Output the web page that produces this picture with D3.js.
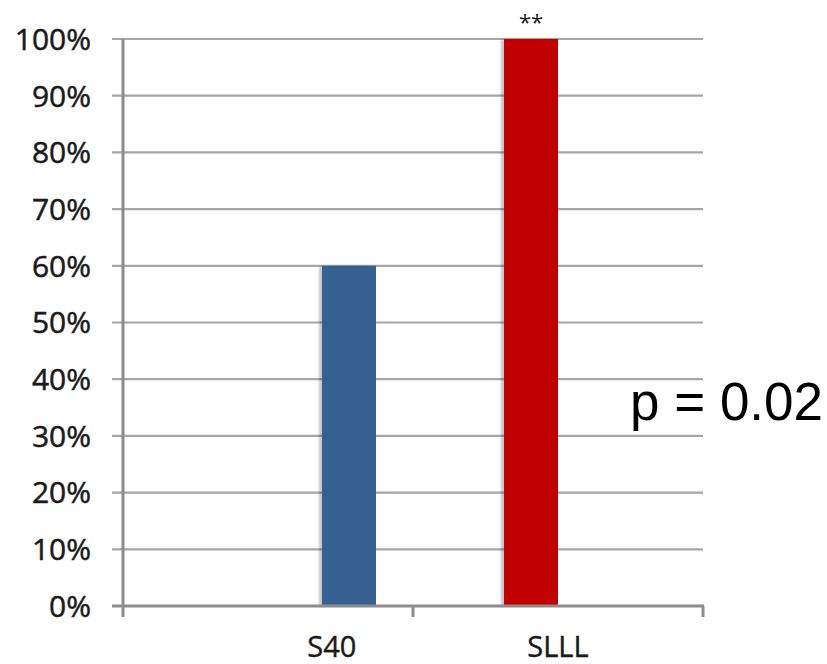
<!DOCTYPE html>
<html><head><meta charset="utf-8">
<script src="https://cdn.jsdelivr.net/npm/d3@7"></script>
<style>body{margin:0;background:#fff}svg{display:block}</style>
</head><body>
<script>
const categories = ["S40", "SLLL"];
const values = [60, 100];
const barSlot = [3, 1];            // sub-slot within category (of 4)
const barColors = ["#376092", "#C00000"];
const labelShift = [0.22, 0];       // label offset, fraction of band
const yTicks = [0,10,20,30,40,50,60,70,80,90,100];
const annotation = "**";
const pText = "p = 0.02";

const W = 827, H = 664;
const svg = d3.select("body").append("svg").attr("width", W).attr("height", H);

const x = d3.scaleBand().domain(categories).range([123, 703]).paddingInner(0).paddingOuter(0);
const sub = d3.scaleBand().domain([0,1,2,3]).range([-108, 108]);
const y = d3.scaleLinear().domain([0, 100]).range([606, 39]);

svg.append("defs").append("filter").attr("id", "blur")
  .append("feGaussianBlur").attr("stdDeviation", 1.2);

// gridlines
svg.append("g").selectAll("line").data(yTicks.filter(d => d > 0)).join("line")
  .attr("x1", 112).attr("x2", 703)
  .attr("y1", d => y(d)).attr("y2", d => y(d))
  .attr("stroke", "#a6a6a6").attr("stroke-width", 2.2);

// y tick labels
svg.append("g").selectAll("text").data(yTicks).join("text")
  .attr("x", 91).attr("y", d => y(d)).attr("dy", "0.36em")
  .attr("text-anchor", "end")
  .attr("font-family", "Open Sans").attr("font-size", 30).attr("fill", "#1a1a1a")
  .attr("stroke", "#1a1a1a").attr("stroke-width", 0.5)
  .text(d => d + "%");

// shadows + bars
const bars = categories.map((c, i) => ({c, v: values[i], s: barSlot[i], col: barColors[i]}));
svg.append("g").selectAll("rect").data(bars).join("rect")
  .attr("x", d => x(d.c) + x.bandwidth()/2 + sub(d.s) - 3)
  .attr("y", d => y(d.v) + 1)
  .attr("width", sub.bandwidth() + 1)
  .attr("height", d => y(0) - y(d.v) - 1)
  .attr("fill", "#000").attr("opacity", 0.22)
  .attr("filter", "url(#blur)");
svg.append("g").selectAll("rect").data(bars).join("rect")
  .attr("x", d => x(d.c) + x.bandwidth()/2 + sub(d.s))
  .attr("y", d => y(d.v))
  .attr("width", sub.bandwidth())
  .attr("height", d => y(0) - y(d.v))
  .attr("fill", d => d.col);

// axes
const ax = svg.append("g").attr("stroke", "#8c8c8c").attr("stroke-width", 3);
ax.append("line").attr("x1", 123).attr("x2", 123).attr("y1", y(100)).attr("y2", 617);
ax.append("line").attr("x1", 112).attr("x2", 704).attr("y1", y(0)).attr("y2", y(0));
ax.selectAll("line.tk").data(categories).join("line").attr("class", "tk")
  .attr("x1", d => x(d) + x.bandwidth()).attr("x2", d => x(d) + x.bandwidth())
  .attr("y1", y(0)).attr("y2", 617);

// category labels
svg.append("g").selectAll("text").data(categories).join("text")
  .attr("x", (d, i) => x(d) + x.bandwidth() * (0.5 + labelShift[i]))
  .attr("y", 657)
  .attr("text-anchor", "middle")
  .attr("font-family", "Open Sans").attr("font-size", 29).attr("fill", "#1a1a1a")
  .attr("stroke", "#1a1a1a").attr("stroke-width", 0.4)
  .text(d => d);

// significance stars
svg.append("text")
  .attr("x", x("SLLL") + x.bandwidth()/2 + sub(1) + sub.bandwidth()/2)
  .attr("y", 30).attr("text-anchor", "middle")
  .attr("font-family", "Open Sans").attr("font-size", 22).attr("fill", "#1a1a1a")
  .text(annotation);

// p-value
svg.append("text").attr("x", 630).attr("y", 420)
  .attr("font-family", "Liberation Sans, Arial").attr("font-size", 53).attr("fill", "#000")
  .text(pText);
</script>
</body></html>
